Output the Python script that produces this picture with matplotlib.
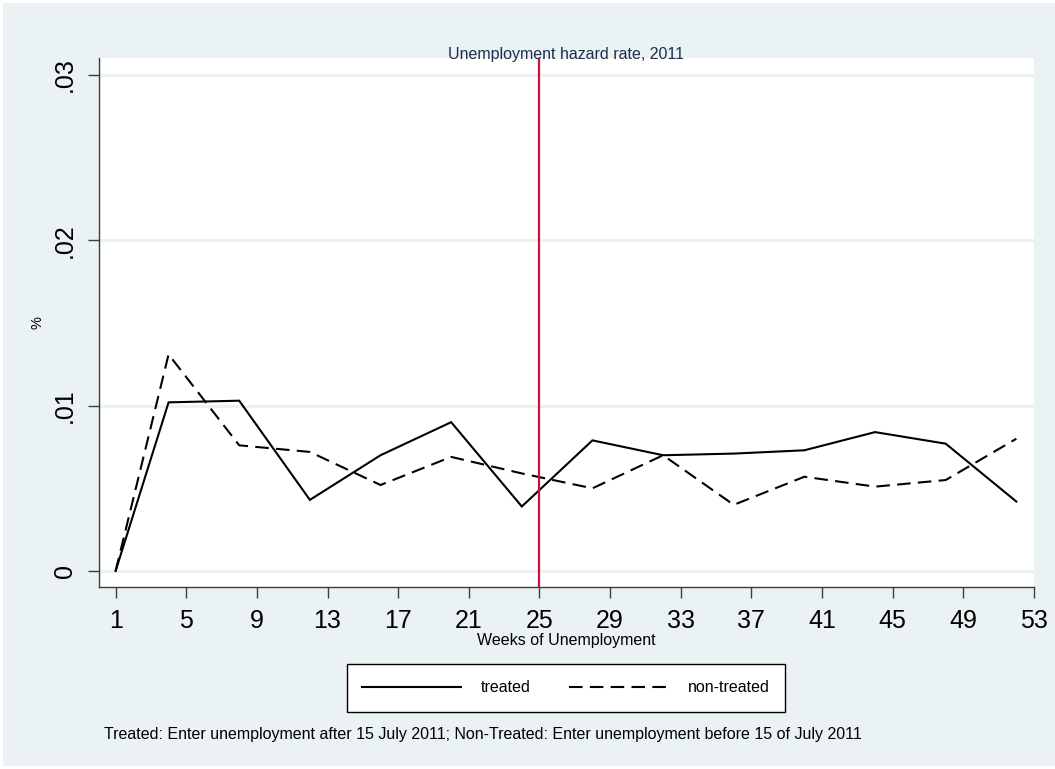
import matplotlib.pyplot as plt
from matplotlib.patches import Rectangle

plt.rcParams["font.family"] = ["Liberation Sans", "DejaVu Sans"]

# hazard rate by week of unemployment
weeks = [1, 4, 8, 12, 16, 20, 24, 28, 32, 36, 40, 44, 48, 52]
treated = [0.0, 0.0102, 0.0103, 0.0043, 0.0070, 0.0090, 0.0039,
           0.0079, 0.0070, 0.0071, 0.0073, 0.0084, 0.0077, 0.0042]
non_treated = [0.0, 0.0131, 0.0076, 0.0072, 0.0052, 0.0069, 0.0059,
               0.0050, 0.0070, 0.0040, 0.0057, 0.0051, 0.0055, 0.0080]

cutoff_week = 25
x_ticks = list(range(1, 54, 4))
y_ticks = [0, 0.01, 0.02, 0.03]
y_tick_labels = ["0", ".01", ".02", ".03"]

BG = "#eaf2f3"
AXIS = "#3c3c3c"
W, H = 1055, 769


def fx(px):
    return px / W


def fy(py):
    return 1 - py / H


fig = plt.figure(figsize=(W / 100, H / 100), dpi=100, facecolor="white")
# graph region background with thin white margin
fig.patches.append(Rectangle((fx(3), fy(766)), fx(W - 3), 763 / H,
                             transform=fig.transFigure, facecolor=BG,
                             edgecolor="none", zorder=-10))

ax = fig.add_axes([fx(99), fy(587), fx(1034 - 99), (587 - 58) / H])
ax.set_facecolor("white")

ax.plot(weeks, treated, color="black", lw=1.5, label="treated",
        solid_joinstyle="miter", zorder=3)
ax.plot(weeks, non_treated, color="black", lw=1.5, dashes=(6.5, 3.5),
        label="non-treated", zorder=3)
ax.axvline(cutoff_week, color="#d0103a", lw=1.6, zorder=4)

ax.set_xlim(0.06, 53)
ax.set_ylim(-0.00097, 0.03103)
ax.set_xticks(x_ticks)
ax.set_xticklabels([str(t) for t in x_ticks])
ax.set_yticks(y_ticks)
ax.set_yticklabels(y_tick_labels, rotation=90, va="center")
ax.yaxis.grid(True, color=BG, lw=2.2, zorder=1)
ax.set_axisbelow(True)

for side in ("top", "right"):
    ax.spines[side].set_visible(False)
for side in ("left", "bottom"):
    ax.spines[side].set_color(AXIS)
    ax.spines[side].set_linewidth(1.0)

ax.tick_params(axis="both", length=8, width=1.0, color=AXIS,
               labelsize=18, labelcolor="black")
ax.tick_params(axis="x", pad=8)
ax.tick_params(axis="y", pad=8)

ax.set_ylabel("%", fontsize=10.5)
ax.yaxis.set_label_coords(fx(45 - 99) / fx(1034 - 99), 0.5)

fig.text(fx(566), fy(54), "Unemployment hazard rate, 2011", ha="center",
         va="center", fontsize=11.5, color="#1f2d4a")
fig.text(fx(566), fy(641), "Weeks of Unemployment", ha="center",
         va="center", fontsize=11.5)
fig.text(fx(104), fy(735), "Treated: Enter unemployment after 15 July 2011; "
         "Non-Treated: Enter unemployment before 15 of July 2011",
         ha="left", va="center", fontsize=11.5)

# legend box
fig.patches.append(Rectangle((fx(347), fy(712)), fx(785 - 347), 48 / H,
                             transform=fig.transFigure, facecolor="white",
                             edgecolor="black", lw=1.0, zorder=1))
handles, labels = ax.get_legend_handles_labels()
fig.legend(handles, labels, loc="center", ncol=2, frameon=False,
           bbox_to_anchor=(fx(566), fy(688)), fontsize=11.5,
           handlelength=6.2, handletextpad=1.25, columnspacing=2.4)

fig.savefig("out.png", dpi=100, facecolor="white")
